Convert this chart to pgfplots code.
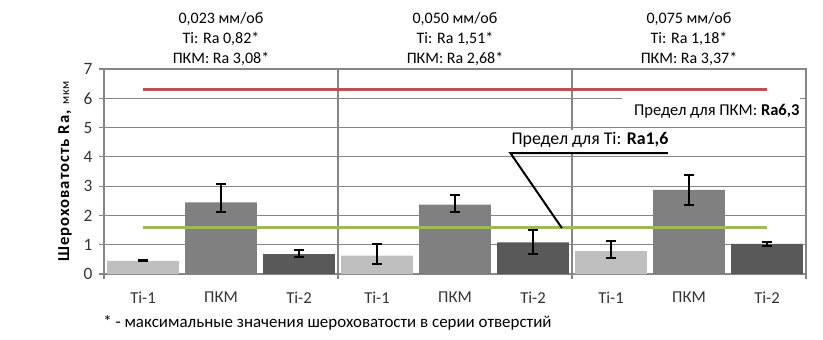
\documentclass[border=0pt]{standalone}
\usepackage{fontspec}
\setmainfont{Carlito}
\usepackage{pgfplots}
\pgfplotsset{compat=1.18}
\definecolor{cTiA}{RGB}{191,191,191}
\definecolor{cPKM}{RGB}{128,128,128}
\definecolor{cTiB}{RGB}{89,89,89}
\definecolor{cRed}{RGB}{192,80,77}
\definecolor{cGreen}{RGB}{155,187,89}
\definecolor{cGrid}{RGB}{134,134,134}
\begin{document}
\begin{tikzpicture}
\useasboundingbox (0,0) rectangle (617.25pt,254.25pt);
\begin{axis}[
  at={(78pt,48.75pt)}, anchor=south west,
  scale only axis, width=526.5pt, height=153.75pt,
  xmin=-0.5, xmax=8.5, ymin=0, ymax=7,
  clip=false,
  bar width=0.92, bar shift=0pt,
  axis line style={cGrid, line width=0.8pt},
  xtick={-0.5,2.5,5.5,8.5}, xticklabels={},
  xmajorgrids, ymajorgrids,
  grid style={cGrid, line width=0.8pt},
  tick style={cGrid, line width=0.8pt},
  tick align=outside, major tick length=3.75pt,
  xtick pos=bottom, ytick pos=left,
  extra x ticks={0,1,2,3,4,5,6,7,8},
  extra x tick labels={Ti-1,ПКМ,Ti-2,Ti-1,ПКМ,Ti-2,Ti-1,ПКМ,Ti-2},
  extra x tick style={major tick length=0pt, xmajorgrids=false,
     xticklabel style={yshift=-10pt}},
  ytick={0,1,2,3,4,5,6,7},
  /pgf/number format/assume math mode=true,
  ticklabel style={font=\fontsize{12.5}{14}\selectfont, color=black!80},
  yticklabel style={xshift=-1.5pt, font=\fontsize{13}{14}\selectfont},
  ylabel={\textbf{Шероховатость Ra,} {\fontsize{9}{9}\selectfont мкм}},
  ylabel style={at={(axis description cs:-0.0556,0.5)}, anchor=center, font=\fontsize{12.5}{13}\selectfont\addfontfeatures{LetterSpace=6}},
  error bars/y dir=both, error bars/y explicit,
  error bars/error bar style={black, line width=1.5pt},
  error bars/error mark options={black, rotate=90, mark size=3.4pt, line width=1.5pt},
]
\addplot[ybar, fill=cTiA, draw=none] coordinates {
  (0,0.45) += (0,0.04) -= (0,0.01)
  (3,0.63) += (0,0.39) -= (0,0.30)
  (6,0.78) += (0,0.34) -= (0,0.23)
};
\addplot[ybar, fill=cPKM, draw=none] coordinates {
  (1,2.45) += (0,0.62) -= (0,0.33)
  (4,2.37) += (0,0.32) -= (0,0.25)
  (7,2.87) += (0,0.51) -= (0,0.51)
};
\addplot[ybar, fill=cTiB, draw=none] coordinates {
  (2,0.68) += (0,0.14) -= (0,0.11)
  (5,1.08) += (0,0.42) -= (0,0.41)
  (8,1.03) += (0,0.06) -= (0,0.08)
};
\addplot[cRed, line width=2.25pt, no markers, sharp plot, forget plot] coordinates {(0,6.3) (8,6.3)};
\addplot[cGreen, line width=2.25pt, no markers, sharp plot, forget plot] coordinates {(0,1.6) (8,1.6)};
% label boxes
\fill[white] (axis cs:6.14,5.3) rectangle (axis cs:8.42,6.06);
\node[anchor=east, font=\fontsize{12.4}{14}\selectfont, inner sep=0pt] at (axis cs:8.42,5.55) {Предел для ПКМ: \textbf{Ra6,3}};
\fill[white] (axis cs:4.71,4.16) rectangle (axis cs:6.73,4.92);
\node[anchor=center, font=\fontsize{13.4}{15}\selectfont, inner sep=0pt] at (axis cs:5.73,4.57) {Предел для Ti: \textbf{Ra1,6}};
\draw[black, line width=1.5pt] (axis cs:6.73,4.13) -- (axis cs:4.71,4.13) -- (axis cs:5.37,1.57);
% titles
\node[anchor=south, align=center, font=\fontsize{12}{15}\selectfont, yshift=-0.8pt] at (axis cs:1,7) {0,023 мм/об\\Ti: Ra 0,82*\\ПКМ: Ra 3,08*};
\node[anchor=south, align=center, font=\fontsize{12}{15}\selectfont, yshift=-0.8pt] at (axis cs:4,7) {0,050 мм/об\\Ti: Ra 1,51*\\ПКМ: Ra 2,68*};
\node[anchor=south, align=center, font=\fontsize{12}{15}\selectfont, yshift=-0.8pt] at (axis cs:7,7) {0,075 мм/об\\Ti: Ra 1,18*\\ПКМ: Ra 3,37*};
\end{axis}
\node[anchor=west, inner sep=0pt, font=\fontsize{12.7}{14}\selectfont] at (77.25pt,12pt) {* - максимальные значения шероховатости в серии отверстий};
\end{tikzpicture}
\end{document}
